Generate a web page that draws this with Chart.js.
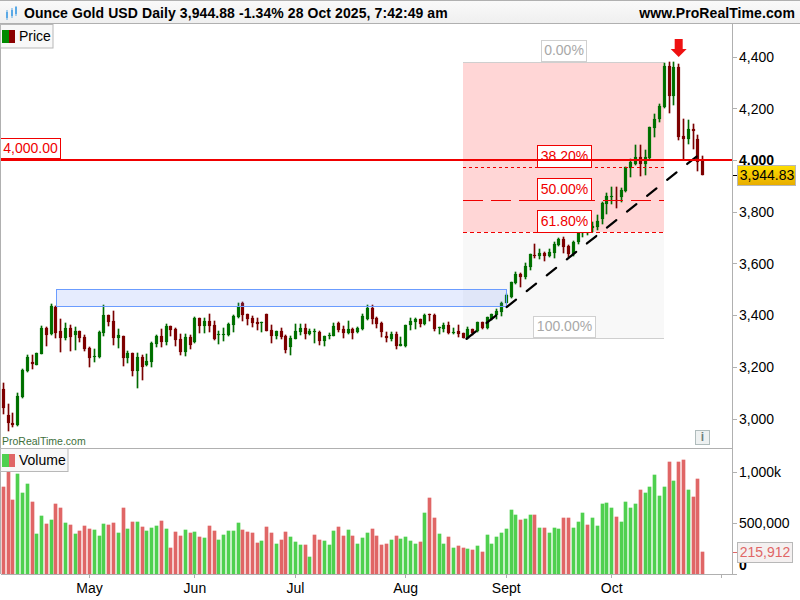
<!DOCTYPE html>
<html><head><meta charset="utf-8">
<style>html,body{margin:0;padding:0;background:#fff}canvas{display:block}</style>
<script src="https://cdn.jsdelivr.net/npm/chart.js@4"></script></head>
<body><canvas id="c" width="800" height="600"></canvas>
<script>
const highs=[3138,3058,3024,3099,3192,3246,3247,3254,3360,3357,
3445,3437,3387,3370,3365,3354,3340,3326,3277,3269,
3339,3441,3402,3418,3348,3321,3265,3255,3254,3247,
3251,3296,3325,3349,3367,3360,3351,3327,3329,3325,
3393,3390,3389,3406,3378,3340,3352,3372,3402,3447,
3452,3406,3399,3389,3374,3408,3363,3340,3351,3325,
3322,3366,3366,3367,3348,3349,3340,3322,3331,3372,
3376,3360,3379,3351,3357,3408,3441,3441,3393,3376,
3338,3336,3338,3316,3363,3389,3392,3387,3408,3408,
3406,3357,3372,3375,3351,3363,3334,3354,3348,3376,
3376,3396,3408,3424,3454,3482,3531,3570,3566,3602,
3640,3677,3656,3647,3656,3686,3702,3705,3673,3687,
3733,3750,3744,3763,3789,3840,3875,3897,3898,3892,
3976,4005,4059,4059,4040,4130,4179,4218,4375,4379,
4379,4372,4159,4156,4141,4098,4019];
const lows=[3018,2955,2970,2974,3080,3183,3193,3210,3251,3284,
3326,3313,3260,3305,3264,3267,3299,3264,3202,3222,
3236,3321,3360,3286,3276,3206,3215,3166,3121,3151,
3205,3202,3280,3278,3286,3321,3284,3247,3244,3272,
3295,3334,3334,3338,3305,3290,3300,3322,3336,3389,
3380,3363,3357,3343,3336,3342,3295,3309,3308,3256,
3249,3309,3325,3309,3325,3295,3286,3282,3311,3321,
3338,3312,3329,3311,3331,3344,3383,3366,3351,3318,
3296,3303,3269,3282,3280,3344,3347,3357,3363,3380,
3340,3329,3335,3329,3329,3316,3312,3311,3325,3336,
3348,3348,3383,3385,3399,3447,3469,3524,3512,3542,
3576,3621,3617,3612,3625,3624,3669,3643,3625,3630,
3675,3705,3711,3722,3731,3754,3791,3830,3817,3840,
3879,3937,3982,3939,3943,4005,4089,4150,4201,4184,
4214,4079,4004,4063,4043,3959,3944];
const opens=[3115,3014,2985,2977,3086,3187,3220,3210,3253,3352,
3330,3434,3340,3314,3352,3326,3339,3316,3275,3238,
3240,3334,3402,3379,3313,3321,3237,3255,3187,3240,
3209,3222,3290,3321,3298,3360,3348,3308,3260,3317,
3298,3389,3360,3379,3363,3326,3326,3325,3363,3393,
3447,3405,3390,3374,3370,3406,3344,3322,3339,3321,
3280,3311,3336,3351,3329,3335,3336,3303,3320,3322,
3371,3348,3331,3348,3335,3347,3385,3430,3390,3372,
3322,3309,3330,3284,3282,3363,3376,3387,3367,3405,
3403,3353,3348,3363,3334,3340,3331,3314,3347,3339,
3375,3351,3385,3402,3415,3447,3473,3527,3561,3549,
3589,3635,3631,3644,3630,3643,3674,3696,3670,3640,
3686,3718,3719,3737,3744,3773,3831,3857,3847,3860,
3883,3969,3988,4014,3988,4008,4126,4159,4205,4365,
4250,4360,4094,4083,4120,4083,3998];
const closes=[3041,2983,2977,3089,3189,3240,3213,3254,3352,3326,
3437,3334,3314,3352,3318,3339,3314,3271,3237,3240,
3336,3402,3376,3314,3325,3237,3254,3187,3240,3202,
3224,3294,3321,3299,3360,3345,3307,3260,3317,3287,
3390,3360,3379,3360,3309,3329,3329,3367,3398,3434,
3402,3387,3371,3366,3371,3342,3322,3339,3316,3267,
3313,3340,3351,3330,3340,3336,3303,3320,3325,3360,
3343,3331,3348,3334,3351,3399,3430,3387,3367,3338,
3312,3329,3282,3290,3363,3379,3385,3367,3402,3402,
3348,3354,3365,3332,3335,3329,3313,3349,3331,3375,
3352,3393,3405,3418,3447,3479,3530,3561,3550,3590,
3638,3630,3644,3631,3646,3675,3698,3666,3638,3684,
3720,3737,3735,3746,3767,3836,3862,3860,3844,3885,
3973,3995,4014,3988,4014,4128,4160,4210,4365,4250,
4361,4092,4083,4120,4112,3995,3944.83];
const volumes=[856000,1006000,729000,984000,797000,886000,709000,395000,572000,493000,
533000,690000,650000,503000,484000,395000,425000,474000,444000,435000,
376000,493000,484000,503000,405000,650000,444000,513000,513000,464000,
425000,454000,474000,523000,444000,258000,415000,376000,435000,405000,
415000,366000,356000,474000,425000,337000,386000,425000,425000,503000,
435000,415000,405000,307000,327000,464000,405000,297000,337000,415000,
366000,317000,288000,288000,170000,386000,337000,327000,288000,425000,
464000,376000,435000,376000,297000,356000,405000,444000,376000,288000,
297000,337000,376000,346000,366000,327000,297000,317000,601000,748000,
552000,395000,297000,366000,258000,278000,258000,248000,239000,278000,
219000,386000,297000,366000,405000,444000,631000,582000,533000,542000,
582000,582000,454000,454000,405000,454000,444000,552000,552000,454000,
513000,601000,484000,552000,474000,690000,699000,650000,562000,513000,
709000,650000,690000,827000,797000,856000,974000,768000,856000,1101000,
915000,1101000,1121000,827000,758000,935000,215912];
const volumeDownBars=[0,1,2,6,9,11,12,14,16,17,18,22,23,25,27,29,33,35,36,37,39,41,43,44,50,51,52,53,55,56,58,59,63,65,66,70,71,73,77,78,79,80,82,87,89,90,93,95,96,98,100,108,111,113,117,118,122,128,133,139,141,142,144,145,146];
const monthBars=[18,40,61,84,105,127,150];
const monthLabels=['May','Jun','Jul','Aug','Sept','Oct',''];
const priceTicks=[3000,3200,3400,3600,3800,4000,4200,4400];
const volumeTicks=[0,500000,1000000];
const fibHigh=4380, fibLow=3312, fibFrom=96, fibTo=138;
const fibLevels=[0.382,0.5,0.618];
const fibNames=['38.20%','50.00%','61.80%'];
const boxFrom=11, boxTo=105, boxHigh=3501, boxLow=3436;
const trendFrom=[96.7,3310], trendTo=[145,4019];
const levelPrice=4000, lastPrice=3944.83, lastVolume=215912, arrowBar=141, arrowTop=4470, arrowTip=4400;
const FONT='"Liberation Sans"';

const idx=highs.map((_,k)=>k);
const isUp=k=>closes[k]>=opens[k];
const ctx0=document.getElementById('c').getContext('2d',{alpha:false});

function text(c,s,x,y,font,color,align){c.font=font;c.fillStyle=color;c.textAlign=align||'left';c.textBaseline='middle';c.fillText(s,x,y);}
function hline(c,x0,x1,y,color,w,dash){c.save();c.strokeStyle=color;c.lineWidth=w||1;c.setLineDash(dash||[]);c.beginPath();c.moveTo(x0,y);c.lineTo(x1,y);c.stroke();c.restore();}
function boxed(c,s,l,t,r,b,bg,border,color){c.fillStyle=bg;c.fillRect(l,t,r-l,b-t);c.strokeStyle=border;c.lineWidth=1;c.strokeRect(l+.5,t+.5,r-l-1,b-t-1);text(c,s,(l+r)/2,(t+b)/2+.5,'14px '+FONT,color,'center');}

const snap={id:'snap',beforeDatasetsDraw(ch){ch.data.datasets.forEach((d,n)=>{ch.getDatasetMeta(n).data.forEach(el=>{el.x=Math.floor(el.x)+.5;el.y=Math.round(el.y);el.base=Math.round(el.base);});});}};

const under={id:'under',beforeDatasetsDraw(ch){
  const c=ch.ctx,X=ch.scales.x,Y=ch.scales.yPrice;
  const l=Math.round(X.getPixelForValue(fibFrom)),r=Math.round(X.getPixelForValue(fibTo));
  const top=Math.floor(Y.getPixelForValue(fibHigh)),bot=Math.floor(Y.getPixelForValue(fibLow));
  const mid=Math.floor(Y.getPixelForValue(fibHigh-fibLevels[2]*(fibHigh-fibLow)));
  c.fillStyle='#ffd6d6';c.fillRect(l,top,r-l,mid-top);
  c.fillStyle='#f8f8f8';c.fillRect(l,mid,r-l,bot-mid);
  hline(c,l,r,top+.5,'#cfcfcf');hline(c,l,r,bot+.5,'#cfcfcf');
}};

const over={id:'over',afterDatasetsDraw(ch){
  const c=ch.ctx,X=ch.scales.x,Y=ch.scales.yPrice,V=ch.scales.yVol;
  const fl=Math.round(X.getPixelForValue(fibFrom)),fr=Math.round(X.getPixelForValue(fibTo));
  const bl=Math.round(X.getPixelForValue(boxFrom))+.5,br=Math.round(X.getPixelForValue(boxTo))+.5;
  const bt=Math.round(Y.getPixelForValue(boxHigh))+.5,bb=Math.round(Y.getPixelForValue(boxLow))+.5;
  c.fillStyle='rgba(90,130,245,0.15)';c.fillRect(bl,bt,br-bl,bb-bt);
  c.strokeStyle='#6b9cff';c.lineWidth=1;c.strokeRect(bl,bt,br-bl,bb-bt);
  c.save();c.strokeStyle='#000';c.lineWidth=2.2;c.lineCap='round';c.setLineDash([12,13.6]);c.beginPath();
  c.moveTo(X.getPixelForValue(trendFrom[0]),Y.getPixelForValue(trendFrom[1]));
  c.lineTo(X.getPixelForValue(trendTo[0]),Y.getPixelForValue(trendTo[1]));c.stroke();c.restore();
  const dashes=[[3,3],[20,8],[4,3]];
  fibLevels.forEach((lv,k)=>{
    const y=Math.floor(Y.getPixelForValue(fibHigh-lv*(fibHigh-fibLow)));
    hline(c,fl,fr,y+.5,'#f00000',1,dashes[k]);
    boxed(c,fibNames[k],537,y-22,592,y+1,'#fff','#f00000','#f00000');
  });
  const topY=Math.floor(Y.getPixelForValue(fibHigh)),botY=Math.floor(Y.getPixelForValue(fibLow));
  boxed(c,'0.00%',541,topY-22,587,topY,'#fff','#d0d0d0','#a8a8a8');
  boxed(c,'100.00%',533,botY-22,596,botY,'#fff','#d0d0d0','#a8a8a8');
  const ly=Math.round(Y.getPixelForValue(levelPrice));
  hline(c,0,X.right,ly,'#f00000',2);
  boxed(c,'4,000.00',0,ly-22,61,ly-1,'#fff','#f00000','#f00000');
  const ax=X.getPixelForValue(arrowBar),at=Y.getPixelForValue(arrowTop),ab=Y.getPixelForValue(arrowTip);
  c.fillStyle='#ee1111';c.beginPath();
  c.moveTo(ax-4,at);c.lineTo(ax+4,at);c.lineTo(ax+4,at+10);c.lineTo(ax+8,at+10);c.lineTo(ax,ab);c.lineTo(ax-8,at+10);c.lineTo(ax-4,at+10);c.closePath();c.fill();
}};

const chrome={id:'chrome',beforeDraw(ch){const c=ch.ctx;c.fillStyle='#fff';c.fillRect(0,0,800,600);},
afterDraw(ch){
  const c=ch.ctx,X=ch.scales.x,Y=ch.scales.yPrice,V=ch.scales.yVol,a=ch.chartArea;
  const g=c.createLinearGradient(0,0,0,23);g.addColorStop(0,'#fafafa');g.addColorStop(1,'#efefef');
  c.fillStyle=g;c.fillRect(0,0,800,23);
  hline(c,0,800,.5,'#b0b0b0');hline(c,0,800,23.5,'#b0b0b0');
  c.fillStyle='#5aa9e6';
  c.fillRect(6,12,2,6);c.fillRect(6.5,10,1,10);
  c.fillRect(11,10,2,6);c.fillRect(11.5,8,1,10);
  c.fillRect(15,7,2,7);c.fillRect(15.5,6,1,10);
  c.save();c.letterSpacing='0.085px';
  text(c,'Ounce Gold USD Daily 3,944.88 -1.34% 28 Oct 2025, 7:42:49 am',24,14,'bold 14px '+FONT,'#000');
  text(c,'www.ProRealTime.com',795,14,'bold 14px '+FONT,'#000','right');
  c.restore();
  c.fillStyle='#b0b0b0';c.fillRect(0,23,1,a.bottom-23);
  hline(c,a.right,737,Math.round(a.bottom)+.5,'#b0b0b0');
  const sep=Math.round(V.top);
  hline(c,0,a.right,sep+.5,'#b0b0b0');
  c.fillStyle='#f8f8f8';c.fillRect(1,24,52,24);c.strokeStyle='#b8b8b8';c.lineWidth=1;c.strokeRect(.5,24.5,52.5,23.5);
  c.fillStyle='#008a00';c.fillRect(2,30,7,13);c.fillStyle='#8b0000';c.fillRect(9,30,6,13);
  text(c,'Price',19,37,'14px '+FONT,'#000');
  c.fillStyle='#f8f8f8';c.fillRect(1,sep+1,67,23);c.strokeStyle='#b8b8b8';c.strokeRect(.5,sep+.5,67.5,23);
  c.fillStyle='#4fd04f';c.fillRect(2,sep+6,7,13);c.fillStyle='#e06666';c.fillRect(9,sep+6,6,13);
  text(c,'Volume',19,sep+13,'14px '+FONT,'#000');
  text(c,'ProRealTime.com',2,442,'10.5px '+FONT,'#40703c');
  c.fillStyle='#eef1f1';c.fillRect(695,430,15,15);c.strokeStyle='#b0bcbc';c.strokeRect(695.5,430.5,14,14);
  text(c,'i',702.5,438,'bold 12px '+FONT,'#6f7f7f','center');
  const py=Math.round(Y.getPixelForValue(lastPrice));
  hline(c,a.right+1,737,py+.5,'#000');
  const g2=c.createLinearGradient(0,py-10,0,py+10);g2.addColorStop(0,'#ffe000');g2.addColorStop(1,'#e8ad00');
  c.fillStyle=g2;c.fillRect(737,py-10,59,21);c.strokeStyle='#b8b8b8';c.strokeRect(737.5,py-9.5,58,20);
  text(c,'3,944.83',767,py+1,'14px '+FONT,'#000','center');
  text(c,'0',739,566,'bold 14px '+FONT,'#000');
  const vy=Math.round(V.getPixelForValue(lastVolume));
  hline(c,a.right+1,737,vy+.5,'#e06666');
  c.fillStyle='#f4f0f0';c.fillRect(737,vy-10,56,21);c.strokeStyle='#b8b8b8';c.strokeRect(737.5,vy-9.5,55,20);
  text(c,'215,912',765,vy+1,'14px '+FONT,'#e06666','center');
}};

const candleBorder=idx.map(k=>isUp(k)?'#006a00':'#7a0000');
const candleFill=idx.map(k=>isUp(k)?'#00a000':'#9a0000');
const wickColor=idx.map(k=>isUp(k)?'#006a00':'#7a0000');
const volumeColor=idx.map(k=>volumeDownBars.includes(k)?'#e06666':'#4fd04f');

new Chart(ctx0,{
  type:'bar',
  data:{datasets:[
    {label:'Wick',data:idx.map(k=>({x:k,y:[lows[k],highs[k]]})),yAxisID:'yPrice',xAxisID:'x',grouped:false,barThickness:1,backgroundColor:wickColor,borderWidth:0},
    {label:'Price',data:idx.map(k=>({x:k,y:[Math.min(opens[k],closes[k]),Math.max(opens[k],closes[k])]})),yAxisID:'yPrice',xAxisID:'x',grouped:false,barThickness:3,backgroundColor:candleFill,borderColor:candleBorder,borderWidth:1,borderSkipped:false,minBarLength:1},
    {label:'Volume',data:idx.map(k=>({x:k,y:volumes[k]})),yAxisID:'yVol',xAxisID:'x',grouped:false,barThickness:3,backgroundColor:volumeColor,borderWidth:0}
  ]},
  options:{
    responsive:false,animation:false,devicePixelRatio:1,
    layout:{padding:{left:1,top:23,right:0,bottom:0}},
    plugins:{legend:{display:false},title:{display:false},tooltip:{enabled:false}},
    scales:{
      x:{type:'linear',position:'bottom',min:-0.48,max:152.13,offset:false,
        afterBuildTicks:s=>{s.ticks=monthBars.map(v=>({value:v}));},
        afterFit:s=>{s.height=26;},
        grid:{offset:false,drawOnChartArea:false,drawTicks:true,tickLength:4,tickColor:'#b0b0b0'},
        border:{color:'#b0b0b0',width:1},
        ticks:{autoSkip:false,maxRotation:0,padding:3,color:'#000',font:{family:FONT,size:14},callback:(v)=>monthLabels[monthBars.indexOf(v)]}},
      yPrice:{type:'linear',position:'right',stack:'panes',stackWeight:425,weight:1,min:2888,max:4531.5,
        afterBuildTicks:s=>{s.ticks=priceTicks.map(v=>({value:v}));},
        afterFit:s=>{s.width=68;},
        grid:{drawOnChartArea:false,drawTicks:true,tickLength:5,tickColor:'#b0b0b0'},
        border:{color:'#b0b0b0',width:1},
        ticks:{autoSkip:false,padding:2,labelOffset:1,color:'#000',font:c=>({family:FONT,size:14,weight:(c.tick&&c.tick.value===levelPrice)?'bold':'normal'}),callback:v=>v.toLocaleString('en-US')}},
      yVol:{type:'linear',position:'right',stack:'panes',stackWeight:126,weight:2,min:0,max:1238000,
        afterBuildTicks:s=>{s.ticks=volumeTicks.map(v=>({value:v}));},
        afterFit:s=>{s.width=68;},
        grid:{drawOnChartArea:false,drawTicks:true,tickLength:5,tickColor:'#b0b0b0'},
        border:{color:'#b0b0b0',width:1},
        ticks:{autoSkip:false,padding:2,labelOffset:1,color:'#000',font:{family:FONT,size:14},callback:v=>v===0?'':(v===1000000?'1,000k':v.toLocaleString('en-US'))}}
    }
  },
  plugins:[snap,under,over,chrome]
});
</script></body></html>
